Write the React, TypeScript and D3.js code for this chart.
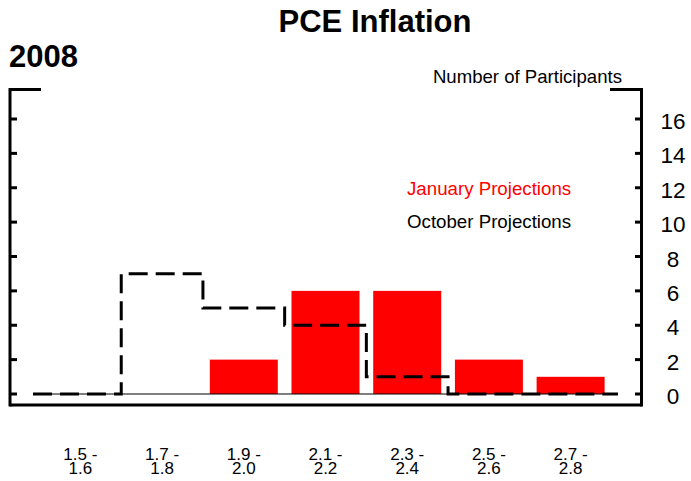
import React, { useRef, useEffect } from 'react';
import * as d3 from 'd3';

const categories = ['1.5 -\n1.6', '1.7 -\n1.8', '1.9 -\n2.0', '2.1 -\n2.2', '2.3 -\n2.4', '2.5 -\n2.6', '2.7 -\n2.8'];
const januaryValues = [0, 0, 2, 6, 6, 2, 1];
const octoberValues = [0, 7, 5, 4, 1, 0, 0];
const yTicks = [0, 2, 4, 6, 8, 10, 12, 14, 16];

const WIDTH = 691;
const HEIGHT = 481;
const FONT = '"Liberation Sans", Arial, sans-serif';

const App: React.FC = () => {
  const svgRef = useRef<SVGSVGElement | null>(null);

  useEffect(() => {
    const svg = d3.select(svgRef.current);
    svg.selectAll('*').remove();

    // x is linear over the category index so the step line can run past the end bands
    const xScale = d3.scaleLinear().domain([-0.58, categories.length - 0.42]).range([33, 618]);
    const yScale = d3.scaleLinear().domain([0, 16]).range([394, 119]);
    const barW = 68;

    const leftX = 10;
    const rightX = 641.5;
    const topY = 89.5;
    const bottomY = 405;

    // title and headings
    svg.append('text')
      .attr('x', 375).attr('y', 32)
      .attr('text-anchor', 'middle')
      .attr('font-family', FONT).attr('font-weight', 'bold').attr('font-size', 31)
      .text('PCE Inflation');
    svg.append('text')
      .attr('x', 9).attr('y', 67)
      .attr('font-family', FONT).attr('font-weight', 'bold').attr('font-size', 31)
      .text('2008');
    svg.append('text')
      .attr('x', 622).attr('y', 83)
      .attr('text-anchor', 'end')
      .attr('font-family', FONT).attr('font-size', 18.6)
      .text('Number of Participants');

    // frame: two side axes with short top brackets and the bottom rule
    const frame = svg.append('g').attr('stroke', '#000').attr('stroke-width', 3).attr('fill', 'none');
    frame.append('path').attr('d', `M41,${topY}H${leftX}V${bottomY + 1.5}`);
    frame.append('path').attr('d', `M610,${topY}H${rightX}V${bottomY + 1.5}`);
    frame.append('line').attr('x1', leftX).attr('x2', rightX).attr('y1', bottomY).attr('y2', bottomY);

    yTicks.forEach((t) => {
      frame.append('line').attr('x1', leftX).attr('x2', 17).attr('y1', yScale(t)).attr('y2', yScale(t));
      frame.append('line').attr('x1', 635).attr('x2', rightX).attr('y1', yScale(t)).attr('y2', yScale(t));
    });

    svg.append('g')
      .selectAll('text')
      .data(yTicks)
      .join('text')
      .attr('x', 673)
      .attr('y', (d) => yScale(d) + 10)
      .attr('text-anchor', 'middle')
      .attr('font-family', FONT).attr('font-size', 22.5)
      .text((d) => d);

    // January bars
    svg.append('g')
      .selectAll('rect')
      .data(januaryValues.map((v, i) => ({ v, i })).filter((d) => d.v > 0))
      .join('rect')
      .attr('x', (d) => xScale(d.i) - barW / 2)
      .attr('y', (d) => yScale(d.v))
      .attr('width', barW)
      .attr('height', (d) => yScale(0) - yScale(d.v))
      .attr('fill', '#ff0000');

    // thin zero line
    svg.append('line')
      .attr('x1', xScale.range()[0]).attr('x2', xScale.range()[1])
      .attr('y1', yScale(0)).attr('y2', yScale(0))
      .attr('stroke', '#000').attr('stroke-width', 1);

    // October step outline
    const stepPts = octoberValues.map((v, i) => ({ x: i === 0 ? xScale.domain()[0] : i - 0.5, v }));
    stepPts.push({ x: xScale.domain()[1], v: octoberValues[octoberValues.length - 1] });
    const step = d3.line<{ x: number; v: number }>()
      .x((d) => xScale(d.x))
      .y((d) => yScale(d.v))
      .curve(d3.curveStepAfter);
    svg.append('path')
      .attr('d', step(stepPts))
      .attr('fill', 'none')
      .attr('stroke', '#000')
      .attr('stroke-width', 3)
      .attr('stroke-dasharray', '19,8');

    // legend
    svg.append('text')
      .attr('x', 407).attr('y', 195)
      .attr('font-family', FONT).attr('font-size', 18.7).attr('fill', '#ff0000')
      .text('January Projections');
    svg.append('text')
      .attr('x', 407).attr('y', 228)
      .attr('font-family', FONT).attr('font-size', 18.7).attr('fill', '#000')
      .text('October Projections');

    // category labels, two lines each
    const labels = svg.append('g')
      .selectAll('text')
      .data(categories)
      .join('text')
      .attr('text-anchor', 'middle')
      .attr('font-family', FONT).attr('font-size', 17)
      .attr('transform', (_d, i) => `translate(${xScale(i)},0)`);
    labels.selectAll('tspan')
      .data((d) => d.split('\n'))
      .join('tspan')
      .attr('x', 0)
      .attr('y', (_d, j) => 460 + j * 14)
      .text((d) => d);
  }, []);

  return (
    <svg
      ref={svgRef}
      width={WIDTH}
      height={HEIGHT}
      style={{ position: 'absolute', left: 0, top: 0, background: '#fff' }}
    />
  );
};

export default App;
